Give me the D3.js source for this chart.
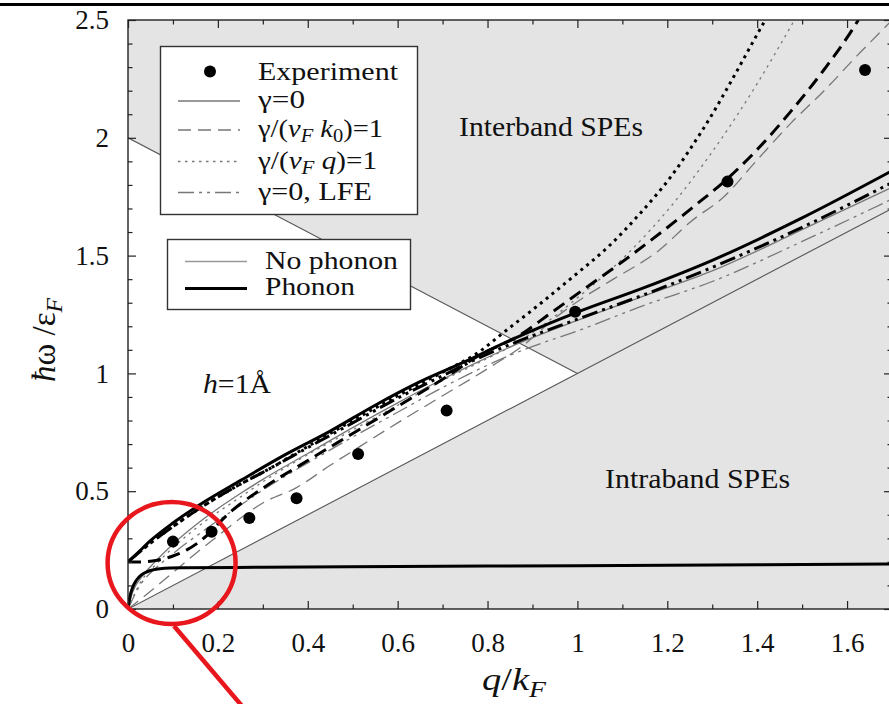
<!DOCTYPE html>
<html>
<head>
<meta charset="utf-8">
<script src="https://cdn.jsdelivr.net/npm/d3@7/dist/d3.min.js"></script>
<style>
  body { margin: 0; background: #fff; }
  svg { display: block; }
  text { font-family: "Liberation Serif", "Times New Roman", serif; }
</style>
</head>
<body>
<svg id="chart" width="889" height="704"></svg>
<script>
// ---- axis ticks ----
const xMajor = [0, 0.2, 0.4, 0.6, 0.8, 1.0, 1.2, 1.4, 1.6];
const xLabels = ["0", "0.2", "0.4", "0.6", "0.8", "1", "1.2", "1.4", "1.6"];
const xMinor = [0.1, 0.3, 0.5, 0.7, 0.9, 1.1, 1.3, 1.5, 1.7];
const yMajor = [0, 0.5, 1.0, 1.5, 2.0, 2.5];
const yLabels = ["0", "0.5", "1", "1.5", "2", "2.5"];
const yMinor = [0.1, 0.2, 0.3, 0.4, 0.6, 0.7, 0.8, 0.9, 1.1, 1.2, 1.3, 1.4, 1.6, 1.7, 1.8, 1.9, 2.1, 2.2, 2.3, 2.4];

// ---- experiment ----
const expQ = [0.10, 0.186, 0.27, 0.375, 0.512, 0.709, 0.995, 1.334, 1.64];
const expW = [0.286, 0.328, 0.386, 0.47, 0.658, 0.842, 1.262, 1.814, 2.288];

// ---- phonon (thick black) curves, [q/kF, hw/eF] ----
const phSolid = [[0,0.20],[0.02,0.235],[0.05,0.29],[0.1,0.365],[0.17,0.455],[0.25,0.545],[0.35,0.655],[0.45,0.755],[0.55,0.865],[0.65,0.965],[0.75,1.05],[0.85,1.14],[1.0,1.26],[1.15,1.365],[1.3,1.48],[1.5,1.66],[1.7,1.86]];
const phLower = [[0,0],[0.004,0.05],[0.01,0.09],[0.019,0.123],[0.03,0.145],[0.042,0.158],[0.071,0.171],[0.12,0.175],[0.3,0.177],[0.6,0.18],[1.0,0.184],[1.4,0.188],[1.7,0.191]];
const phDashed = [[0,0.2],[0.03,0.2],[0.065,0.207],[0.1,0.225],[0.13,0.25],[0.155,0.28],[0.18,0.32],[0.205,0.37],[0.23,0.415],[0.26,0.46],[0.31,0.525],[0.4,0.63],[0.5,0.745],[0.6,0.86],[0.7,0.975],[0.78,1.075],[0.87,1.16],[0.94,1.255],[1.02,1.365],[1.09,1.46],[1.16,1.56],[1.26,1.71],[1.333,1.825],[1.40,1.95],[1.474,2.11],[1.549,2.29],[1.612,2.46],[1.625,2.5]];
const phDotted = [[0,0.2],[0.05,0.28],[0.1,0.35],[0.17,0.44],[0.25,0.53],[0.3,0.58],[0.4,0.69],[0.5,0.8],[0.6,0.905],[0.7,1.005],[0.78,1.09],[0.84,1.18],[0.92,1.30],[0.99,1.41],[1.07,1.54],[1.14,1.68],[1.21,1.84],[1.25,1.95],[1.30,2.10],[1.348,2.26],[1.415,2.49],[1.418,2.5]];
const phLFE = [[0,0.2],[0.05,0.28],[0.1,0.35],[0.17,0.44],[0.25,0.53],[0.3,0.58],[0.4,0.685],[0.5,0.79],[0.6,0.895],[0.7,0.99],[0.78,1.065],[0.86,1.13],[1.0,1.23],[1.15,1.335],[1.3,1.45],[1.5,1.62],[1.7,1.81]];

// ---- no-phonon (thin grey) curves ----
const npSolid = [[0,0],[0.01,0.07],[0.03,0.135],[0.06,0.2],[0.1,0.275],[0.17,0.385],[0.25,0.49],[0.3,0.55],[0.4,0.66],[0.5,0.77],[0.6,0.875],[0.7,0.975],[0.78,1.05],[0.86,1.12],[1.0,1.225],[1.15,1.33],[1.3,1.435],[1.5,1.61],[1.7,1.79]];
const npDashed = [[0,0],[0.05,0.075],[0.1,0.155],[0.15,0.235],[0.2,0.31],[0.25,0.385],[0.3,0.45],[0.375,0.515],[0.45,0.61],[0.512,0.685],[0.6,0.79],[0.7,0.905],[0.8,1.02],[0.88,1.12],[0.95,1.235],[1.02,1.33],[1.08,1.40],[1.18,1.52],[1.252,1.644],[1.326,1.75],[1.40,1.906],[1.474,2.06],[1.549,2.2],[1.623,2.35],[1.69,2.48],[1.7,2.5]];
const npDotted = [[0,0],[0.03,0.12],[0.06,0.185],[0.1,0.26],[0.17,0.37],[0.25,0.475],[0.3,0.54],[0.4,0.655],[0.5,0.76],[0.6,0.865],[0.7,0.97],[0.78,1.045],[0.87,1.135],[0.92,1.2],[0.99,1.305],[1.11,1.505],[1.215,1.725],[1.296,1.93],[1.35,2.08],[1.40,2.23],[1.48,2.49],[1.483,2.5]];
const npLFE = [[0,0],[0.03,0.11],[0.06,0.17],[0.1,0.235],[0.17,0.335],[0.25,0.44],[0.3,0.505],[0.4,0.62],[0.5,0.73],[0.6,0.835],[0.7,0.94],[0.8,1.035],[0.88,1.10],[1.0,1.18],[1.15,1.29],[1.3,1.39],[1.5,1.56],[1.7,1.74]];

// ---- single-particle excitation boundaries ----
const intraBand = [[0,0],[1.7,1.7],[1.7,0]];
const interBand = [[0,2],[1,1],[1.7,1.7],[1.7,2.5],[0,2.5]];
const edgeInter = [[0,2],[1,1]];
const edgeIntra = [[0,0],[1.7,1.7]];

const serif = "Liberation Serif";
const grey = "#777";
const svg = d3.select("#chart");

const X = d3.scaleLinear().domain([0, 1.7]).range([128, 892]);
const Y = d3.scaleLinear().domain([0, 2.5]).range([609, 20]);

svg.append("defs").append("clipPath").attr("id", "plotClip")
  .append("rect").attr("x", X(0)).attr("y", Y(2.5))
  .attr("width", X(1.7) - X(0)).attr("height", Y(0) - Y(2.5));

const plot = svg.append("g").attr("clip-path", "url(#plotClip)");

const area = d3.line().x(d => X(d[0])).y(d => Y(d[1]));
plot.append("path").attr("d", area(intraBand) + "Z").attr("fill", "#e4e4e4");
plot.append("path").attr("d", area(interBand) + "Z").attr("fill", "#e4e4e4");
[edgeInter, edgeIntra].forEach(e => plot.append("path").attr("d", area(e))
  .attr("fill", "none").attr("stroke", "#555").attr("stroke-width", 1.1));

const curve = d3.line().x(d => X(d[0])).y(d => Y(d[1])).curve(d3.curveMonotoneX);

const styles = {
  solid: null,
  dashed: "13,7",
  dotted: "2.5,4.5",
  lfe: "16,5,3,5,3,5"
};

const thin = [
  [npSolid, styles.solid], [npDashed, styles.dashed],
  [npDotted, styles.dotted], [npLFE, styles.lfe]
];
thin.forEach(([d, dash]) => plot.append("path").attr("d", curve(d))
  .attr("fill", "none").attr("stroke", grey).attr("stroke-width", 1.3)
  .attr("stroke-dasharray", dash));

const thick = [
  [phLFE, styles.lfe], [phDotted, "3,4.5"], [phDashed, styles.dashed],
  [phSolid, styles.solid], [phLower, styles.solid]
];
thick.forEach(([d, dash]) => plot.append("path").attr("d", curve(d))
  .attr("fill", "none").attr("stroke", "#000").attr("stroke-width", 3)
  .attr("stroke-dasharray", dash));

plot.selectAll("circle.exp").data(expQ).join("circle")
  .attr("class", "exp").attr("cx", d => X(d)).attr("cy", (d, i) => Y(expW[i]))
  .attr("r", 6).attr("fill", "#000");

// ---- frame and axes with inward ticks ----
function styleAxis(g) {
  g.select(".domain").remove();
  g.attr("font-family", null).attr("font-size", null);
  g.selectAll("line").attr("stroke", "#222").attr("stroke-width", 1.2);
  g.selectAll("text").style("font-family", serif).style("font-size", "27px").attr("fill", "#111");
}
svg.append("g").attr("transform", `translate(0,${Y(0)})`)
  .call(d3.axisBottom(X).tickValues(xMajor).tickSize(-8).tickPadding(24)
    .tickFormat((d, i) => xLabels[i])).call(styleAxis);
svg.append("g").attr("transform", `translate(0,${Y(0)})`)
  .call(d3.axisBottom(X).tickValues(xMinor).tickSize(-4.5).tickFormat("")).call(styleAxis);
svg.append("g").attr("transform", `translate(0,${Y(2.5)})`)
  .call(d3.axisTop(X).tickValues(xMajor).tickSize(-8).tickFormat("")).call(styleAxis);
svg.append("g").attr("transform", `translate(0,${Y(2.5)})`)
  .call(d3.axisTop(X).tickValues(xMinor).tickSize(-4.5).tickFormat("")).call(styleAxis);
svg.append("g").attr("transform", `translate(${X(0)},0)`)
  .call(d3.axisLeft(Y).tickValues(yMajor).tickSize(-8).tickPadding(19)
    .tickFormat((d, i) => yLabels[i])).call(styleAxis);
svg.append("g").attr("transform", `translate(${X(0)},0)`)
  .call(d3.axisLeft(Y).tickValues(yMinor).tickSize(-4.5).tickFormat("")).call(styleAxis);
svg.append("g").attr("transform", `translate(${X(1.7)},0)`)
  .call(d3.axisRight(Y).tickValues(yMajor).tickSize(-8).tickFormat("")).call(styleAxis);
svg.append("g").attr("transform", `translate(${X(1.7)},0)`)
  .call(d3.axisRight(Y).tickValues(yMinor).tickSize(-4.5).tickFormat("")).call(styleAxis);

svg.append("rect").attr("x", X(0)).attr("y", Y(2.5))
  .attr("width", X(1.7) - X(0)).attr("height", Y(0) - Y(2.5))
  .attr("fill", "none").attr("stroke", "#222").attr("stroke-width", 1.4);

// ---- text helper ----
function label(x, y, parts, size, width) {
  const t = svg.append("text").attr("x", x).attr("y", y)
    .style("font-family", serif).style("font-size", size + "px").attr("fill", "#111");
  parts.forEach(p => {
    const s = t.append("tspan").text(p.t);
    if (p.i) s.style("font-style", "italic");
    if (p.sub) s.attr("baseline-shift", "-30%").style("font-size", (size * 0.72) + "px");
  });
  if (width) t.attr("textLength", width).attr("lengthAdjust", "spacingAndGlyphs");
  return t;
}

// ---- legend: line styles ----
svg.append("rect").attr("x", 160.5).attr("y", 46.5).attr("width", 257).attr("height", 168)
  .attr("fill", "#fff").attr("stroke", "#333").attr("stroke-width", 1.4);
const legRows = [
  { y: 101, dash: styles.solid, parts: [{ t: "γ=0" }], w: 47 },
  { y: 130, dash: styles.dashed, parts: [{ t: "γ/(" }, { t: "v", i: 1 }, { t: "F", i: 1, sub: 1 }, { t: " k", i: 1 }, { t: "0", sub: 1 }, { t: ")=1" }], w: 125 },
  { y: 161.5, dash: styles.dotted, parts: [{ t: "γ/(" }, { t: "v", i: 1 }, { t: "F", i: 1, sub: 1 }, { t: " q", i: 1 }, { t: ")=1" }], w: 119 },
  { y: 192.5, dash: styles.lfe, parts: [{ t: "γ=0, LFE" }], w: 114 }
];
svg.append("circle").attr("cx", 210).attr("cy", 71.5).attr("r", 6).attr("fill", "#000");
label(258, 80, [{ t: "Experiment" }], 25, 140);
legRows.forEach(r => {
  svg.append("line").attr("x1", 178).attr("x2", 240).attr("y1", r.y).attr("y2", r.y)
    .attr("stroke", grey).attr("stroke-width", 1.3).attr("stroke-dasharray", r.dash);
  label(258, r.y + 7, r.parts, 25, r.w);
});

// ---- legend: phonon coupling ----
svg.append("rect").attr("x", 167.5).attr("y", 239.5).attr("width", 243).attr("height", 70)
  .attr("fill", "#fff").attr("stroke", "#333").attr("stroke-width", 1.4);
svg.append("line").attr("x1", 185).attr("x2", 247).attr("y1", 261.5).attr("y2", 261.5)
  .attr("stroke", "#999").attr("stroke-width", 1.6);
svg.append("line").attr("x1", 185).attr("x2", 247).attr("y1", 288.5).attr("y2", 288.5)
  .attr("stroke", "#000").attr("stroke-width", 3);
label(265, 269, [{ t: "No phonon" }], 25, 133);
label(265, 295, [{ t: "Phonon" }], 25, 90);

// ---- annotations ----
label(459, 136, [{ t: "Interband SPEs" }], 27, 184);
label(605, 488, [{ t: "Intraband SPEs" }], 27, 185);
label(203, 393, [{ t: "h", i: 1 }, { t: "=1Å" }], 27, 68);

// axis titles
label(482, 690, [{ t: "q", i: 1 }, { t: "/" }, { t: "k", i: 1 }, { t: "F", i: 1, sub: 1 }], 32, 64);
label(0, 0, [{ t: "ħ", i: 1 }, { t: "ω" }, { t: " /" }, { t: "ε" }, { t: "F", i: 1, sub: 1 }], 33)
  .attr("text-anchor", "middle").attr("transform", "translate(55,340) rotate(-90)");

// ---- highlight of the small-q region ----
svg.append("ellipse").attr("cx", X(0.097)).attr("cy", Y(0.195)).attr("rx", 64).attr("ry", 61)
  .attr("fill", "none").attr("stroke", "#e8161d").attr("stroke-width", 4.5);
svg.append("line").attr("x1", 174).attr("y1", 626).attr("x2", 242).attr("y2", 706)
  .attr("stroke", "#e8161d").attr("stroke-width", 4.5);

// top rule
svg.append("line").attr("x1", 0).attr("x2", 889).attr("y1", 4.5).attr("y2", 4.5)
  .attr("stroke", "#000").attr("stroke-width", 3);
</script>
</body>
</html>
